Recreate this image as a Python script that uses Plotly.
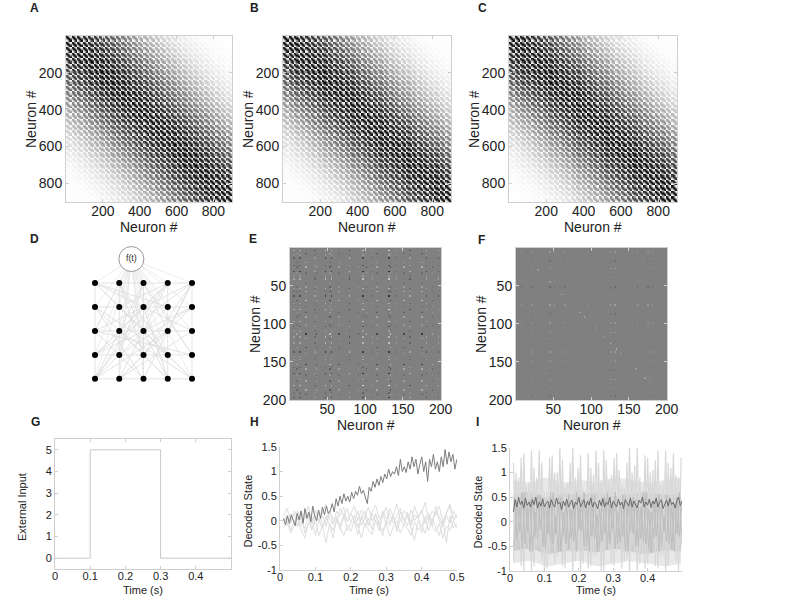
import numpy as np
import plotly.graph_objects as go

W, H = 799, 600
FONT = "Liberation Sans, Arial, sans-serif"
AXIS_GREY = "#cfcfcf"

# --- A-C: 900 neurons on a 30x30 sheet, weight falls off with sheet distance
lattice_side = 30
lattice_falloff = [1.00, 0.99, 0.97, 0.94, 0.90, 0.86, 0.81, 0.75, 0.69, 0.63,
                   0.57, 0.51, 0.45, 0.39, 0.34, 0.29, 0.24, 0.20, 0.16, 0.13,
                   0.10, 0.08, 0.06, 0.04, 0.03, 0.02, 0.015, 0.01, 0.005, 0.0]
matrix_ticks = [200, 400, 600, 800]

# --- E/F: sparse 200x200 weight matrices (neuron index, amplitude)
e_cols_a = [5, 14, 33, 48, 56, 79, 97, 109, 131, 141, 160, 181, 197]
e_col_amp_a = [0.4, 0.5, -0.3, 0.7, 0.6, -0.6, 0.7, 0.3, 0.8, 0.3, -0.4, 0.5, 0.4]
e_cols_b = [9, 22, 36, 53, 66, 91, 101, 116, 134, 151, 176, 190]
e_col_amp_b = [-0.3, 0.6, 0.4, -0.5, 0.4, 0.3, -0.4, 0.5, -0.6, 0.5, 0.6, -0.3]
e_rows_a = [3, 10, 14, 23, 31, 38, 42, 53, 57, 64, 73, 81, 90, 98, 104, 109, 118,
            126, 137, 143, 148, 157, 165, 173, 182, 191, 198]
e_row_amp_a = [0.8, 0.3, -0.6, -0.4, -0.9, 0.3, 0.7, 0.5, -0.3, -0.8, 0.4, 0.8,
               -0.3, 0.7, -0.4, 0.3, 0.5, 0.6, -0.7, 0.3, 0.4, -0.4, -0.8, 0.3,
               0.9, -0.3, -0.7]
e_rows_b = [8, 19, 25, 34, 47, 51, 58, 70, 77, 86, 92, 101, 114, 120, 131, 140,
            154, 159, 168, 176, 187, 193]
e_row_amp_b = [-0.5, 0.4, 0.6, -0.3, -0.3, 0.4, 0.6, 0.9, -0.3, -0.5, 0.5, 0.3,
               -0.9, 0.4, -0.5, 0.3, -0.9, 0.6, -0.3, 0.5, 0.6, -0.4]

f_cols = [8, 22, 46, 52, 66, 96, 126, 132, 162, 176, 182]
f_col_amp = [0.2, 0.15, 0.25, 0.2, 0.15, 0.12, 0.3, 0.25, 0.25, 0.2, 0.15]
f_rows = [6, 18, 27, 40, 52, 61, 75, 88, 99, 112, 124, 137, 149, 161, 173, 186, 195]
f_row_amp = [0.6, -0.5, 0.8, 0.4, -0.7, 0.5, 0.9, -0.4, 0.6, 0.7, -0.5, 0.8,
             0.4, -0.6, 0.7, 0.5, -0.4]
f_diag = [30, 45, 62, 70, 85, 92, 105, 118, 125, 133, 140, 160, 172, 178]
f_diag_amp = [0.15, 0.2, 0.2, 0.15, 0.25, 0.3, 0.2, 0.2, 0.3, 0.4, 0.2, 0.2, 0.25, 0.2]
small_ticks = [50, 100, 150, 200]

# --- D: 5x5 network plus input node f(t)
net_rows, net_cols = 5, 5
input_node = (1.5, -1.0)
net_edges = [(0, 8), (0, 14), (1, 10), (1, 17), (2, 20), (2, 19), (3, 15), (3, 21),
             (4, 13), (4, 22), (5, 18), (5, 23), (6, 24), (6, 3), (7, 15), (7, 23),
             (8, 20), (9, 16), (9, 21), (10, 4), (10, 22), (11, 3), (11, 24),
             (12, 0), (13, 20), (14, 21), (15, 9), (16, 2), (17, 4), (18, 1),
             (19, 10), (20, 7), (21, 13), (22, 5), (23, 11), (24, 12), (1, 23),
             (3, 20), (0, 18), (4, 15)]

# --- G: external input pulse
g_time = [0, 0.1, 0.1, 0.3, 0.3, 0.5]
g_input = [0, 0, 5, 5, 0, 0]

# --- H: decoded states, integrated dimension (dark) and others (light)
h_dark = [0.05, -0.08, 0.1, -0.05, 0.12, 0.0, -0.1, 0.15, 0.02,
          0.2, -0.05, 0.25, 0.05, 0.18, -0.02, 0.3, 0.1, 0.0,
          0.22, 0.05, 0.28, 0.12, 0.3, 0.15, 0.2, 0.35, 0.18,
          0.45, 0.3, 0.5, 0.35, 0.55, 0.4, 0.5, 0.38, 0.58,
          0.45, 0.6, 0.52, 0.7, 0.55, 0.62, 0.48, 0.35, 0.68,
          0.6, 0.8, 0.68, 0.85, 0.72, 0.9, 0.78, 0.95, 0.85,
          1.05, 0.9, 1.0, 0.95, 1.1, 0.92, 1.25, 1.0, 1.1,
          0.98, 1.2, 1.05, 1.3, 1.1, 1.25, 0.95, 1.15, 1.3,
          1.0, 1.2, 0.8, 1.25, 1.1, 1.35, 1.05, 1.2, 1.0,
          1.3, 1.1, 1.45, 1.15, 1.4, 1.2, 1.35, 1.05, 1.25]
h_light = [
    [0.05, -0.1, 0.15, -0.05, 0.2, 0.0, -0.15, 0.1, -0.2, 0.05, 0.18, -0.1, 0.0,
     0.22, -0.05, 0.1, -0.18, 0.08, 0.25, -0.02, 0.12, -0.12, 0.05, 0.2, -0.08,
     0.15, 0.0, -0.2, 0.1, 0.28, -0.05, 0.08, -0.15, 0.18, 0.02, -0.1, 0.22, 0.0,
     0.12, -0.25, 0.05, 0.15, -0.1, 0.3, 0.0, -0.12, 0.1, -0.05, 0.2, 0.05],
    [-0.05, 0.1, -0.2, 0.0, -0.12, 0.15, -0.25, -0.05, 0.08, -0.3, 0.0, -0.15,
     0.1, -0.08, -0.35, 0.05, -0.1, 0.12, -0.2, -0.05, 0.0, -0.28, 0.1, -0.12,
     0.05, -0.18, 0.15, -0.05, -0.3, 0.0, -0.1, 0.12, -0.22, 0.02, -0.08, 0.1,
     -0.15, -0.4, 0.0, -0.1, 0.08, -0.2, 0.05, -0.12, -0.3, 0.0, -0.45, 0.1, -0.15, -0.05],
    [0.1, 0.25, 0.0, 0.15, -0.1, 0.2, 0.05, 0.3, -0.05, 0.12, 0.0, 0.18, 0.35,
     0.05, -0.08, 0.2, 0.1, 0.28, -0.02, 0.15, 0.3, 0.0, 0.22, 0.08, -0.1, 0.18,
     0.32, 0.05, 0.15, -0.05, 0.25, 0.1, 0.35, 0.0, 0.2, 0.12, -0.05, 0.3, 0.08,
     0.15, 0.38, 0.0, 0.2, 0.1, 0.3, -0.02, 0.18, 0.35, 0.05, 0.12],
    [-0.15, 0.0, -0.25, -0.1, 0.05, -0.2, -0.35, -0.05, -0.15, 0.0, -0.3, -0.1,
     -0.45, -0.05, -0.2, 0.02, -0.15, -0.3, -0.08, -0.22, 0.0, -0.12, -0.35,
     -0.05, -0.18, -0.28, 0.0, -0.1, -0.2, -0.05, -0.32, -0.12, 0.0, -0.25,
     -0.08, -0.15, -0.3, -0.02, -0.18, -0.1, -0.25, 0.0, -0.12, -0.22, -0.05,
     -0.35, -0.1, -0.2, 0.0, -0.15],
    [0.0, 0.12, -0.05, 0.2, 0.08, -0.1, 0.05, 0.15, -0.08, 0.22, 0.0, 0.1, -0.12,
     0.18, 0.05, -0.05, 0.25, 0.1, -0.02, 0.15, 0.0, 0.2, -0.1, 0.08, 0.28, 0.0,
     0.12, -0.08, 0.2, 0.05, 0.15, -0.05, 0.1, 0.25, 0.0, 0.18, -0.1, 0.12, 0.05,
     0.22, -0.05, 0.1, 0.0, 0.2, 0.08, -0.08, 0.15, 0.3, 0.0, 0.1],
]

# --- I: decoded states without input
i_dark = [0.2, 0.45, 0.3, 0.5, 0.35, 0.42, 0.28, 0.48, 0.33, 0.4,
          0.3, 0.45, 0.35, 0.5, 0.28, 0.4, 0.32, 0.47, 0.3, 0.38,
          0.42, 0.28, 0.45, 0.35, 0.3, 0.48, 0.36, 0.4, 0.25, 0.42,
          0.33, 0.46, 0.3, 0.38, 0.44, 0.27, 0.4, 0.35, 0.5, 0.3,
          0.38, 0.45, 0.28, 0.42, 0.34, 0.48, 0.3, 0.4, 0.36, 0.26,
          0.44, 0.33, 0.47, 0.3, 0.4, 0.35, 0.5, 0.28, 0.42, 0.36,
          0.3, 0.46, 0.34, 0.4, 0.27, 0.45, 0.38, 0.32, 0.48, 0.3,
          0.42, 0.35, 0.28, 0.44, 0.38, 0.5, 0.3, 0.4, 0.34, 0.46,
          0.29, 0.42, 0.36, 0.48, 0.3, 0.4, 0.45, 0.27, 0.38, 0.44,
          0.32, 0.47, 0.35, 0.4, 0.28, 0.43, 0.5, 0.33, 0.42]
# envelopes of the dense cloud of traces (read every 0.05 s)
i_outer_hi = [0.85, 0.8, 0.9, 0.8, 0.85, 0.8, 0.9, 0.85, 0.8, 0.85, 0.9]
i_outer_lo = [-0.85, -0.8, -0.9, -0.85, -0.8, -0.9, -0.85, -0.8, -0.85, -0.9, -0.85]
i_core_hi = [0.55, 0.6, 0.5, 0.58, 0.55, 0.6, 0.52, 0.57, 0.6, 0.55, 0.58]
i_core_lo = [-0.6, -0.55, -0.65, -0.6, -0.58, -0.62, -0.55, -0.6, -0.65, -0.58, -0.6]
i_light_wide = [
    [1.2, -0.6, 0.9, -0.9, 1.4, -0.3, 0.8, -1.0, 1.1, -0.5, 1.45, -0.8, 0.6, -0.95,
     1.3, -0.4, 1.0, -0.7, 1.5, -0.9, 0.7, -0.5, 1.2, -1.0, 0.9, -0.6, 1.35, -0.85,
     0.5, -0.95, 1.1, -0.7, 1.45, -0.4, 0.85, -1.0, 1.25, -0.6, 0.95, -0.9, 1.4,
     -0.5, 0.75, -0.8, 1.2, -1.0, 1.0, -0.65, 1.5, -0.85, 0.65, -0.95, 1.3, -0.55,
     1.05, -0.9, 1.45, -0.7, 0.8, -1.0, 1.2, -0.6, 1.4, -0.8, 0.9, -0.5],
    [-0.8, 1.0, -0.4, 1.3, -1.0, 0.7, -0.6, 1.45, -0.9, 0.9, -0.5, 1.2, -1.0, 0.6,
     -0.7, 1.35, -0.85, 1.0, -0.45, 1.25, -0.95, 0.8, -0.6, 1.5, -0.8, 1.1, -1.0,
     0.65, -0.55, 1.4, -0.9, 0.95, -0.7, 1.2, -1.0, 1.45, -0.5, 0.85, -0.85, 1.3,
     -0.6, 1.05, -0.95, 0.7, -0.75, 1.5, -0.5, 1.15, -1.0, 0.9, -0.65, 1.35, -0.85,
     1.0, -0.4, 1.25, -0.95, 0.75, -0.7, 1.45, -0.9, 1.1, -0.55, 0.95, -1.0, 1.3],
]
i_light_core = [
    [0.5, -0.4, 0.3, -0.55, 0.6, -0.2, 0.45, -0.6, 0.2, -0.35, 0.55, -0.5, 0.35,
     -0.25, 0.6, -0.45, 0.1, -0.6, 0.5, -0.3, 0.4, -0.55, 0.25, -0.4, 0.6, -0.15,
     0.45, -0.5, 0.3, -0.6, 0.55, -0.35, 0.15, -0.5, 0.5, -0.25, 0.6, -0.45, 0.35,
     -0.55, 0.2, -0.4, 0.55, -0.6, 0.4, -0.2, 0.5, -0.5, 0.3, -0.35, 0.6, -0.45,
     0.25, -0.6, 0.45, -0.3, 0.55, -0.5, 0.1, -0.4, 0.5, -0.55, 0.35, -0.25, 0.6, -0.45],
    [-0.5, 0.4, -0.2, 0.6, -0.45, 0.3, -0.6, 0.5, -0.3, 0.55, -0.15, 0.45, -0.55,
     0.35, -0.4, 0.6, -0.25, 0.5, -0.6, 0.2, -0.45, 0.55, -0.35, 0.4, -0.6, 0.3,
     -0.2, 0.6, -0.5, 0.45, -0.3, 0.55, -0.6, 0.25, -0.4, 0.5, -0.55, 0.35, -0.15,
     0.6, -0.45, 0.4, -0.3, 0.55, -0.6, 0.5, -0.25, 0.45, -0.5, 0.3, -0.4, 0.6,
     -0.55, 0.2, -0.35, 0.5, -0.6, 0.4, -0.2, 0.55, -0.45, 0.35, -0.6, 0.5, -0.3, 0.45],
]


def sample_times(n, dt, t0=0.01):
    return np.round(t0 + dt * np.arange(n), 5)


# sheet connectivity, binned 6x6 so each heatmap cell is about a pixel
fall = np.array(lattice_falloff)
idx = np.arange(lattice_side ** 2)
sheet_r, sheet_c = idx // lattice_side, idx % lattice_side
w_full = (fall[np.abs(sheet_r[:, None] - sheet_r[None, :])]
          * fall[np.abs(sheet_c[:, None] - sheet_c[None, :])])
w_bin = np.round(w_full.reshape(150, 6, 150, 6).mean(axis=(1, 3)), 3)
w_centres = np.arange(150) * 6 + 3.5


def add_block(z, rows, row_amp, cols, col_amp):
    for r, ra in zip(rows, row_amp):
        for c, ca in zip(cols, col_amp):
            z[(r - 1) // 2, (c - 1) // 2] += ra * ca


e_mat = np.zeros((100, 100))
add_block(e_mat, e_rows_a, e_row_amp_a, e_cols_a, e_col_amp_a)
add_block(e_mat, e_rows_b, e_row_amp_b, e_cols_b, e_col_amp_b)
e_mat = np.clip(e_mat, -1, 1)

f_mat = np.zeros((100, 100))
add_block(f_mat, f_rows, f_row_amp, f_cols, f_col_amp)
for d, a in zip(f_diag, f_diag_amp):
    f_mat[(d - 1) // 2, (d - 1) // 2] += a
small_centres = np.arange(100) * 2 + 1.5

fig = go.Figure()

# pixel boxes in the screenshot (left, right, top, bottom)
boxes = {
    "A": (66, 232, 36, 202), "B": (283, 451, 36, 202), "C": (509, 677, 36, 202),
    "D": (83, 204, 245, 393), "E": (290, 441, 248, 400), "F": (516, 667, 248, 400),
    "G": (55, 231, 439, 569), "H": (280, 457, 447, 570), "I": (510, 682, 448, 571),
}
letters = {"A": (34, 8), "B": (254, 8), "C": (482, 8), "D": (34, 239), "E": (253, 239),
           "F": (481, 240), "G": (35, 422), "H": (254, 422), "I": (477, 422)}


def px(x):
    return x / W


def py(y):
    return 1 - y / H


layout = {}
axis_ids = {}
for n, (key, (x0, x1, y0, y1)) in enumerate(boxes.items(), start=1):
    sfx = "" if n == 1 else str(n)
    axis_ids[key] = ("x" + sfx, "y" + sfx)
    layout["xaxis" + sfx] = dict(domain=[px(x0), px(x1)], anchor="y" + sfx, automargin=False,
                                 showgrid=False, zeroline=False)
    layout["yaxis" + sfx] = dict(domain=[py(y1), py(y0)], anchor="x" + sfx, automargin=False,
                                 showgrid=False, zeroline=False)

tick_style = dict(ticks="inside", ticklen=3, tickcolor=AXIS_GREY, showline=True,
                  linecolor=AXIS_GREY, linewidth=1)
big_font = dict(size=14, color="#222")
small_font = dict(size=11, color="#222")

grey_scale = [[0, "white"], [1, "black"]]
for key in "ABC":
    xa, ya = axis_ids[key]
    fig.add_trace(go.Heatmap(x=w_centres, y=w_centres, z=w_bin, zmin=0, zmax=1,
                             colorscale=grey_scale, showscale=False,
                             xaxis=xa, yaxis=ya, hoverinfo="skip"))
    sfx = xa[1:]
    layout["xaxis" + sfx].update(range=[0.5, 900.5], tickvals=matrix_ticks, mirror="ticks",
                                 tickfont=big_font, ticklabelstandoff=-4, **tick_style)
    layout["yaxis" + sfx].update(range=[900.5, 0.5], tickvals=matrix_ticks, mirror="ticks",
                                 tickfont=big_font, **tick_style)

signed_scale = [[0, "black"], [0.5, "rgb(128,128,128)"], [1, "white"]]
for key, mat in (("E", e_mat), ("F", f_mat)):
    xa, ya = axis_ids[key]
    fig.add_trace(go.Heatmap(x=small_centres, y=small_centres, z=np.round(mat, 3),
                             zmin=-1, zmax=1, colorscale=signed_scale, showscale=False,
                             xaxis=xa, yaxis=ya, hoverinfo="skip"))
    sfx = xa[1:]
    layout["xaxis" + sfx].update(range=[0.5, 200.5], tickvals=small_ticks, mirror="ticks",
                                 tickfont=big_font, ticklabelstandoff=-4, **tick_style)
    layout["yaxis" + sfx].update(range=[200.5, 0.5], tickvals=small_ticks, mirror="ticks",
                                 tickfont=big_font, **tick_style)

# D: network sketch
xa, ya = axis_ids["D"]
node_x = [c for r in range(net_rows) for c in range(net_cols)]
node_y = [r for r in range(net_rows) for c in range(net_cols)]
ex, ey = [], []
for r in range(net_rows):
    for c in range(net_cols):
        k = r * net_cols + c
        if c + 1 < net_cols:
            ex += [node_x[k], node_x[k + 1], None]
            ey += [node_y[k], node_y[k + 1], None]
        if r + 1 < net_rows:
            ex += [node_x[k], node_x[k + net_cols], None]
            ey += [node_y[k], node_y[k + net_cols], None]
for a, b in net_edges:
    ex += [node_x[a], node_x[b], None]
    ey += [node_y[a], node_y[b], None]
fig.add_trace(go.Scatter(x=ex, y=ey, mode="lines", line=dict(color="rgb(218,218,218)", width=0.8),
                         xaxis=xa, yaxis=ya, showlegend=False, hoverinfo="skip"))
fx, fy = [], []
for k in range(len(node_x)):
    fx += [input_node[0], node_x[k], None]
    fy += [input_node[1], node_y[k], None]
fig.add_trace(go.Scatter(x=fx, y=fy, mode="lines", line=dict(color="rgb(228,228,228)", width=0.7),
                         xaxis=xa, yaxis=ya, showlegend=False, hoverinfo="skip"))
fig.add_trace(go.Scatter(x=node_x, y=node_y, mode="markers",
                         marker=dict(color="black", size=6),
                         xaxis=xa, yaxis=ya, showlegend=False, hoverinfo="skip"))
fig.add_trace(go.Scatter(x=[input_node[0]], y=[input_node[1]], mode="markers+text", text=["f(t)"],
                         textposition="middle center", textfont=dict(size=9, color="#333", family=FONT),
                         marker=dict(color="white", size=25, line=dict(color="#999", width=1)),
                         xaxis=xa, yaxis=ya, showlegend=False, hoverinfo="skip"))
layout["xaxis4"].update(range=[-0.495, 4.495], visible=False)
layout["yaxis4"].update(range=[4.59, -1.586], visible=False)

# G: external input
xa, ya = axis_ids["G"]
fig.add_trace(go.Scatter(x=g_time, y=g_input, mode="lines", line=dict(color="rgb(200,200,200)", width=1),
                         xaxis=xa, yaxis=ya, showlegend=False))
layout["xaxis7"].update(range=[0, 0.5], tickvals=[0, 0.1, 0.2, 0.3, 0.4],
                        ticktext=["0", "0.1", "0.2", "0.3", "0.4"], mirror="ticks",
                        tickfont=small_font, ticklabelstandoff=-3, **tick_style)
layout["yaxis7"].update(range=[-0.5, 5.5], tickvals=[0, 1, 2, 3, 4, 5], mirror="ticks",
                        tickfont=small_font, **tick_style)

# H: decoded state with input
xa, ya = axis_ids["H"]
for series in h_light:
    fig.add_trace(go.Scatter(x=sample_times(len(series), 0.01), y=series, mode="lines",
                             line=dict(color="rgb(222,222,222)", width=1),
                             xaxis=xa, yaxis=ya, showlegend=False))
fig.add_trace(go.Scatter(x=sample_times(len(h_dark), 0.0055), y=h_dark, mode="lines",
                         line=dict(color="rgb(125,125,125)", width=1),
                         xaxis=xa, yaxis=ya, showlegend=False))
state_ticks = [-1, -0.5, 0, 0.5, 1, 1.5]
state_text = ["-1", "-0.5", "0", "0.5", "1", "1.5"]
layout["xaxis8"].update(range=[0, 0.5], tickvals=[0, 0.1, 0.2, 0.3, 0.4, 0.5],
                        ticktext=["0", "0.1", "0.2", "0.3", "0.4", "0.5"],
                        tickfont=small_font, ticklabelstandoff=-3, **tick_style)
layout["yaxis8"].update(range=[-1, 1.5], tickvals=state_ticks, ticktext=state_text,
                        tickfont=small_font, **tick_style)

# I: decoded state without input
xa, ya = axis_ids["I"]
env_t = sample_times(len(i_outer_hi), 0.0487)
for lo, hi, colour in ((i_outer_lo, i_outer_hi, "rgb(232,232,232)"),
                       (i_core_lo, i_core_hi, "rgb(204,204,204)")):
    fig.add_trace(go.Scatter(x=env_t, y=lo, mode="lines", line=dict(width=0, shape="spline"),
                             xaxis=xa, yaxis=ya, showlegend=False, hoverinfo="skip"))
    fig.add_trace(go.Scatter(x=env_t, y=hi, mode="lines", line=dict(width=0, shape="spline"),
                             fill="tonexty", fillcolor=colour,
                             xaxis=xa, yaxis=ya, showlegend=False, hoverinfo="skip"))
for series in i_light_wide:
    fig.add_trace(go.Scatter(x=sample_times(len(series), 0.0075), y=series, mode="lines",
                             line=dict(color="rgb(216,216,216)", width=1.2),
                             xaxis=xa, yaxis=ya, showlegend=False))
for series in i_light_core:
    fig.add_trace(go.Scatter(x=sample_times(len(series), 0.0075, 0.013), y=series, mode="lines",
                             line=dict(color="rgb(190,190,190)", width=1),
                             xaxis=xa, yaxis=ya, showlegend=False))
fig.add_trace(go.Scatter(x=sample_times(len(i_dark), 0.005), y=i_dark, mode="lines",
                         line=dict(color="rgb(105,105,105)", width=1),
                         xaxis=xa, yaxis=ya, showlegend=False))
layout["xaxis9"].update(range=[0, 0.5], tickvals=[0, 0.1, 0.2, 0.3, 0.4],
                        ticktext=["0", "0.1", "0.2", "0.3", "0.4"],
                        tickfont=small_font, ticklabelstandoff=-3, **tick_style)
layout["yaxis9"].update(range=[-1, 1.5], tickvals=state_ticks, ticktext=state_text,
                        tickfont=small_font, **tick_style)

# axis titles and panel letters as paper annotations (pixel placed)
notes = []


def note(text, x, y, size, angle=0, bold=False):
    notes.append(dict(text=f"<b>{text}</b>" if bold else text, x=px(x), y=py(y),
                      xref="paper", yref="paper", showarrow=False, textangle=angle,
                      font=dict(size=size, color="#222", family=FONT),
                      xanchor="center", yanchor="middle"))


for key in "ABCEF":
    x0, x1, y0, y1 = boxes[key]
    note("Neuron #", x0 - 35, (y0 + y1) / 2, 14, angle=-90)
    note("Neuron #", (x0 + x1) / 2, y1 + 25, 14)
for key, label in (("G", "External Input"), ("H", "Decoded State"), ("I", "Decoded State")):
    x0, x1, y0, y1 = boxes[key]
    note(label, x0 - 33, (y0 + y1) / 2 + 3, 11, angle=-90)
    note("Time (s)", (x0 + x1) / 2, 590, 11)
for key, (lx, ly) in letters.items():
    note(key, lx, ly, 12, bold=True)

fig.update_layout(width=W, height=H, margin=dict(l=0, r=0, t=0, b=0),
                  paper_bgcolor="white", plot_bgcolor="white",
                  font=dict(family=FONT, color="#222"), annotations=notes, **layout)

# the page body's default 8px margin would push the figure off its 799x600 frame
fig.write_html("out.html", config={"displayModeBar": False},
               post_script="document.body.style.margin = '0';")
